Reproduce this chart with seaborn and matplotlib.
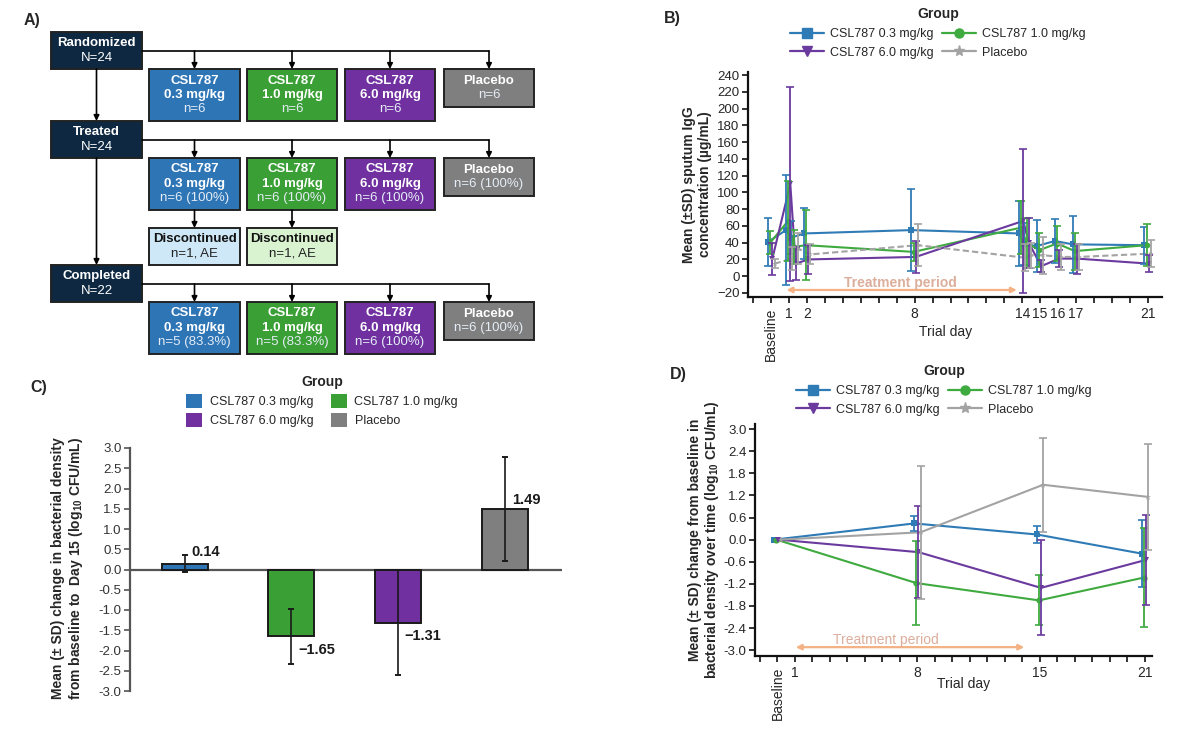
import numpy as np
import pandas as pd
import seaborn as sns
import matplotlib.pyplot as plt
from matplotlib.patches import Rectangle, Patch
from matplotlib.lines import Line2D

# ---------------- data ----------------
groups = ['CSL787 0.3 mg/kg', 'CSL787 1.0 mg/kg', 'CSL787 6.0 mg/kg', 'Placebo']

# panel A: disposition
stage_names = ['Randomized', 'Treated', 'Completed']
stage_totals = [24, 24, 22]
arm_titles = ['CSL787\n0.3 mg/kg', 'CSL787\n1.0 mg/kg', 'CSL787\n6.0 mg/kg', 'Placebo']
arm_n = [[6, 6, 6, 6], [6, 6, 6, 6], [5, 5, 6, 6]]
arm_pct = [[None, None, None, None], ['100', '100', '100', '100'], ['83.3', '83.3', '100', '100']]
discontinued_n = [1, 1, 0, 0]
discontinued_reason = 'AE'

# panel B: sputum IgG (ug/mL), mean and SD per trial day
days_b = [0, 1, 1.3, 2, 8, 14, 14.3, 15, 16, 17, 21]
igg_mean = {
    'CSL787 0.3 mg/kg': [41, 55, 46, 51, 55, 51, 38, 36, 42, 38, 37],
    'CSL787 1.0 mg/kg': [40, 66, 35, 37, 29, 58, 40, 31, 39, 30, 37],
    'CSL787 6.0 mg/kg': [21, 110, 15, 20, 23, 66, 40, 12, 21, 21, 15],
    'Placebo':          [15, 21, 33, 26, 37, 22, 25, 25, 23, 23, 27],
}
igg_sd = {
    'CSL787 0.3 mg/kg': [29, 66, 20, 30, 49, 39, 25, 31, 26, 34, 22],
    'CSL787 1.0 mg/kg': [14, 48, 20, 42, 11, 32, 30, 20, 21, 22, 25],
    'CSL787 6.0 mg/kg': [19, 116, 20, 17, 19, 86, 30, 7, 10, 18, 10],
    'Placebo':          [5, 14, 18, 12, 25, 16, 15, 22, 15, 16, 16],
}

# panel C: change from baseline to day 15
c_mean = [0.14, -1.65, -1.31, 1.49]
c_sd = [0.21, 0.68, 1.29, 1.28]

# panel D: change from baseline over time
days_d = [0, 8, 15, 21]
d_mean = {
    'CSL787 0.3 mg/kg': [0.0, 0.44, 0.14, -0.38],
    'CSL787 1.0 mg/kg': [0.0, -1.18, -1.65, -1.03],
    'CSL787 6.0 mg/kg': [0.0, -0.34, -1.31, -0.55],
    'Placebo':          [0.0, 0.20, 1.49, 1.16],
}
d_sd = {
    'CSL787 0.3 mg/kg': [0.0, 0.20, 0.22, 0.90],
    'CSL787 1.0 mg/kg': [0.0, 1.13, 0.68, 1.35],
    'CSL787 6.0 mg/kg': [0.0, 1.25, 1.29, 1.23],
    'Placebo':          [0.0, 1.80, 1.28, 1.43],
}
treatment_period = (1, 14)

# ---------------- style ----------------
sns.set_theme(style='ticks')
plt.rcParams['font.family'] = ['Liberation Sans', 'DejaVu Sans']
plt.rcParams['mathtext.fontset'] = 'custom'
plt.rcParams['mathtext.rm'] = 'Liberation Sans'
plt.rcParams['mathtext.bf'] = 'Liberation Sans:bold'

box_colors = ['#2e75b6', '#3a9f35', '#7030a0', '#7f7f7f']
line_colors = {'CSL787 0.3 mg/kg': '#2f7bb5', 'CSL787 1.0 mg/kg': '#3faa3f',
               'CSL787 6.0 mg/kg': '#6a3a9e', 'Placebo': '#a3a3a3'}
markers = {'CSL787 0.3 mg/kg': 's', 'CSL787 1.0 mg/kg': 'o',
           'CSL787 6.0 mg/kg': 'v', 'Placebo': '*'}
navy = '#0e2841'
salmon = '#f4b183'
# legends fill column-wise; this order gives rows (0.3, 1.0) and (6.0, Placebo)
legend_order = [0, 2, 1, 3]

W, H = 1200, 742
fig = plt.figure(figsize=(12, 7.42), dpi=100)


def fx(px):
    return px / W


def fy(py):
    return 1 - py / H


# ---------------- panel A ----------------
ax_a = fig.add_axes([0, fy(360), fx(560), 360 / H])
ax_a.set_xlim(0, 560)
ax_a.set_ylim(360, 0)
ax_a.axis('off')

stage_x = (51, 142)
stage_tops = [32, 121, 265]
stage_h = 37
arm_cols = [(149, 240), (247, 337), (345, 435), (444, 534)]
arm_tops = [69, 158, 302]
disc_top = 228
disc_fill = ['#cfe8f7', '#d9f2d0']


def draw_box(x0, x1, y0, y1, face, lines):
    ax_a.add_patch(Rectangle((x0, y0), x1 - x0, y1 - y0, facecolor=face,
                             edgecolor='#222222', lw=1.4))
    step = 14.5
    yc = (y0 + y1) / 2 - step * (len(lines) - 1) / 2
    for i, (txt, bold, col) in enumerate(lines):
        ax_a.text((x0 + x1) / 2, yc + i * step, txt, ha='center', va='center',
                  fontsize=9.5, color=col, fontweight='bold' if bold else 'normal')


def arrow(x0, y0, x1, y1):
    ax_a.annotate('', xy=(x1, y1), xytext=(x0, y0),
                  arrowprops=dict(arrowstyle='-|>', color='black', lw=1.2,
                                  mutation_scale=8, shrinkA=0, shrinkB=0))


for s, name in enumerate(stage_names):
    top = stage_tops[s]
    draw_box(stage_x[0], stage_x[1], top, top + stage_h, navy,
             [(name, True, 'white'), (f'N={stage_totals[s]}', False, 'white')])
    branch_y = top + 19
    centers = [(a + b) / 2 for a, b in arm_cols]
    ax_a.plot([stage_x[1], centers[-1]], [branch_y, branch_y], color='black', lw=1.2)
    for g in range(4):
        a, b = arm_cols[g]
        atop = arm_tops[s]
        arrow(centers[g], branch_y, centers[g], atop)
        n_txt = f'n={arm_n[s][g]}'
        if arm_pct[s][g] is not None:
            n_txt += f' ({arm_pct[s][g]}%)'
        title_lines = arm_titles[g].split('\n')
        lines = [(t, True, 'white') for t in title_lines] + [(n_txt, False, '#e4ecf5')]
        bottom = atop + (52 if len(title_lines) == 2 else 38)
        draw_box(a, b, atop, bottom, box_colors[g], lines)

# main flow arrows
xc = (stage_x[0] + stage_x[1]) / 2
arrow(xc, stage_tops[0] + stage_h, xc, stage_tops[1])
arrow(xc, stage_tops[1] + stage_h, xc, stage_tops[2])

# discontinued boxes
for g in range(4):
    if discontinued_n[g] > 0:
        a, b = arm_cols[g]
        cx = (a + b) / 2
        arrow(cx, arm_tops[1] + 52, cx, disc_top)
        draw_box(a, b, disc_top, disc_top + 37, disc_fill[g],
                 [('Discontinued', True, '#111111'),
                  (f'n={discontinued_n[g]}, {discontinued_reason}', False, '#222222')])

# ---------------- helpers for line panels ----------------
offsets = {'CSL787 0.3 mg/kg': -0.18, 'CSL787 1.0 mg/kg': -0.06,
           'CSL787 6.0 mg/kg': 0.06, 'Placebo': 0.18}


def long_frame(days, means, sds):
    rows = []
    for g in groups:
        for d, m, s in zip(days, means[g], sds[g]):
            rows.append({'group': g, 'day': d, 'x': d + offsets[g], 'mean': m, 'sd': s})
    return pd.DataFrame(rows)


def line_legend(anchor_x, anchor_y):
    handles = [Line2D([], [], color=line_colors[g], marker=markers[g], lw=1.6,
                      markersize=8 if g == 'Placebo' else 6.5) for g in groups]
    leg = fig.legend([handles[i] for i in legend_order], [groups[i] for i in legend_order],
                     loc='upper center', ncol=2,
                     bbox_to_anchor=(anchor_x, anchor_y), frameon=False,
                     fontsize=9, title='Group', handlelength=2.7,
                     handletextpad=0.5, columnspacing=0.7, labelspacing=0.55,
                     borderaxespad=0, borderpad=0)
    leg.get_title().set_fontweight('bold')
    leg.get_title().set_fontsize(10)
    return leg


def style_line_axis(ax, xmajor, xlabels, xminor):
    sns.despine(ax=ax)
    for sp in ['left', 'bottom']:
        ax.spines[sp].set_linewidth(1.6)
        ax.spines[sp].set_color('#111111')
    ax.set_xticks(xmajor)
    ax.set_xticklabels(xlabels, fontsize=10)
    ax.set_xticks(xminor, minor=True)
    ax.tick_params(axis='both', which='both', direction='out', length=4,
                   width=1.2, color='#111111')
    ax.tick_params(axis='y', labelsize=9.5, pad=2)
    ax.get_xticklabels()[0].set_rotation(90)


# ---------------- panel B ----------------
ax_b = fig.add_axes([fx(748), fy(297), fx(1162 - 748), (297 - 72) / H])
df_b = long_frame(days_b, igg_mean, igg_sd)
dash_b = {g: '' for g in groups}
dash_b['Placebo'] = (3, 1.5)
sns.lineplot(data=df_b, x='x', y='mean', hue='group', style='group',
             palette=line_colors, markers=markers, dashes=dash_b,
             estimator=None, sort=True, legend=False, lw=1.5,
             markersize=4, markeredgewidth=0, ax=ax_b)
for g in groups:
    sub = df_b[df_b.group == g]
    ax_b.errorbar(sub.x, sub['mean'], yerr=sub.sd, fmt='none', ecolor=line_colors[g],
                  elinewidth=1.3, capsize=3, capthick=1.2)
ax_b.set_xlim(-1.3, 21.8)
ax_b.set_ylim(-24.8, 243.6)
ax_b.set_yticks(np.arange(-20, 241, 20))
style_line_axis(ax_b, [0, 1, 2, 8, 14, 15, 16, 17, 21],
                ['Baseline', '1', '2', '8', '14', '15', '16', '17', '21'], np.arange(-1, 22))
ax_b.set_xlabel('Trial day', fontsize=10)
ax_b.xaxis.set_label_coords(0.478, -0.125)
ax_b.set_ylabel('Mean (\u00b1SD) sputum IgG\nconcentration (\u00b5g/mL)', fontsize=10,
                fontweight='bold', linespacing=1.1)
ax_b.yaxis.set_label_coords(-0.088, 0.5)
ax_b.annotate('', xy=(treatment_period[1] - 0.3, -16.4), xytext=(treatment_period[0] - 0.15, -16.4),
              arrowprops=dict(arrowstyle='<|-|>', color=salmon, lw=1.6, mutation_scale=8,
                              shrinkA=0, shrinkB=0))
ax_b.text(7.2, -8, 'Treatment period', ha='center', va='center', fontsize=10,
          color='#dcae9c', fontweight='bold')
line_legend(fx(938), fy(7))

# ---------------- panel C ----------------
ax_c = fig.add_axes([fx(130), fy(691), fx(562 - 130), 243 / H])
df_c = pd.DataFrame({'group': groups, 'mean': c_mean, 'sd': c_sd})
sns.barplot(data=df_c, x='group', y='mean', hue='group', palette=box_colors,
            saturation=1, edgecolor='#1a1a1a', linewidth=1.4, width=0.43,
            legend=False, ax=ax_c)
ax_c.errorbar(np.arange(len(groups)), df_c['mean'], yerr=df_c.sd, fmt='none',
              ecolor='#1a1a1a', elinewidth=1.2, capsize=2.5, capthick=1.4)
for i, (m, s) in enumerate(zip(c_mean, c_sd)):
    txt = f'{m:.2f}'.replace('-', '\u2212')
    ty = m + 0.22 if m > 0 else m - 0.33
    if m > 0 and s < 0.5:
        ty = m + s + 0.08
    ax_c.text(i + 0.06, ty, txt, ha='left', va='center', fontsize=10.5,
              fontweight='bold', color='#1a1a1a')
ax_c.set_xlim(-0.51, 3.53)
ax_c.set_ylim(-3.0, 3.0)
ax_c.axhline(0, color='#555555', lw=1.6, zorder=0.5)
ax_c.set_yticks(np.arange(-3.0, 3.01, 0.5))
ax_c.set_yticklabels([f'{v:.1f}' for v in np.arange(-3.0, 3.01, 0.5)], fontsize=9.5,
                     color='#333333')
ax_c.set_xticks([])
ax_c.set_xlabel('')
sns.despine(ax=ax_c, bottom=True)
ax_c.spines['left'].set_linewidth(1.6)
ax_c.spines['left'].set_color('#555555')
ax_c.tick_params(axis='y', direction='out', length=4, width=1.2, color='#555555', pad=2)
ax_c.set_ylabel('Mean (\u00b1 SD) change in bacterial density\n'
                r'from baseline to  Day 15 (log$_\mathbf{10}$ CFU/mL)',
                fontsize=10, fontweight='bold', linespacing=1.1)
ax_c.yaxis.set_label_coords(-0.105, 0.506)
c_handles = [Patch(facecolor=c, edgecolor='none') for c in box_colors]
leg_c = fig.legend([c_handles[i] for i in legend_order], [groups[i] for i in legend_order],
                   loc='upper center', ncol=2,
                   bbox_to_anchor=(fx(322), fy(375)), frameon=False, fontsize=9,
                   title='Group', handlelength=1.3, handleheight=1.3,
                   handletextpad=0.6, columnspacing=1.4, labelspacing=0.4,
                   borderaxespad=0, borderpad=0)
leg_c.get_title().set_fontweight('bold')
leg_c.get_title().set_fontsize(10)

# ---------------- panel D ----------------
ax_d = fig.add_axes([fx(755), fy(656), fx(1152 - 755), (656 - 424) / H])
df_d = long_frame(days_d, d_mean, d_sd)
sns.lineplot(data=df_d, x='x', y='mean', hue='group', style='group',
             palette=line_colors, markers=markers, dashes=False,
             estimator=None, sort=True, legend=False, lw=1.5,
             markersize=4.5, markeredgewidth=0, ax=ax_d)
for g in groups:
    sub = df_d[(df_d.group == g) & (df_d.sd > 0)]
    ax_d.errorbar(sub.x, sub['mean'], yerr=sub.sd, fmt='none', ecolor=line_colors[g],
                  elinewidth=1.3, capsize=3, capthick=1.2)
ax_d.set_xlim(-1.28, 21.4)
ax_d.set_ylim(-3.16, 3.14)
ax_d.set_yticks(np.round(np.arange(-3.0, 3.01, 0.6), 1))
ax_d.set_yticklabels([f'{v:.1f}' for v in np.arange(-3.0, 3.01, 0.6)])
style_line_axis(ax_d, [0, 1, 8, 15, 21], ['Baseline', '1', '8', '15', '21'], np.arange(-1, 22))
ax_d.set_xlabel('Trial day', fontsize=10)
ax_d.xaxis.set_label_coords(0.526, -0.09)
ax_d.set_ylabel('Mean (\u00b1 SD) change from baseline in\n'
                r'bacterial density over time (log$_\mathbf{10}$ CFU/mL)',
                fontsize=10, fontweight='bold', linespacing=1.1)
ax_d.yaxis.set_label_coords(-0.086, 0.5)
ax_d.annotate('', xy=(treatment_period[1] + 0.1, -2.92), xytext=(treatment_period[0] + 0.05, -2.92),
              arrowprops=dict(arrowstyle='<|-|>', color=salmon, lw=1.6, mutation_scale=8,
                              shrinkA=0, shrinkB=0))
ax_d.text(6.2, -2.72, 'Treatment period', ha='center', va='center', fontsize=10,
          color='#dcae9c')
line_legend(fx(944), fy(364))

# ---------------- panel letters ----------------
for lab, x, y in [('A)', 24, 20), ('B)', 664, 18), ('C)', 30, 387), ('D)', 670, 375)]:
    fig.text(fx(x), fy(y), lab, fontsize=11.5, fontweight='bold', va='center', ha='left')

fig.savefig('out.png', dpi=100)
